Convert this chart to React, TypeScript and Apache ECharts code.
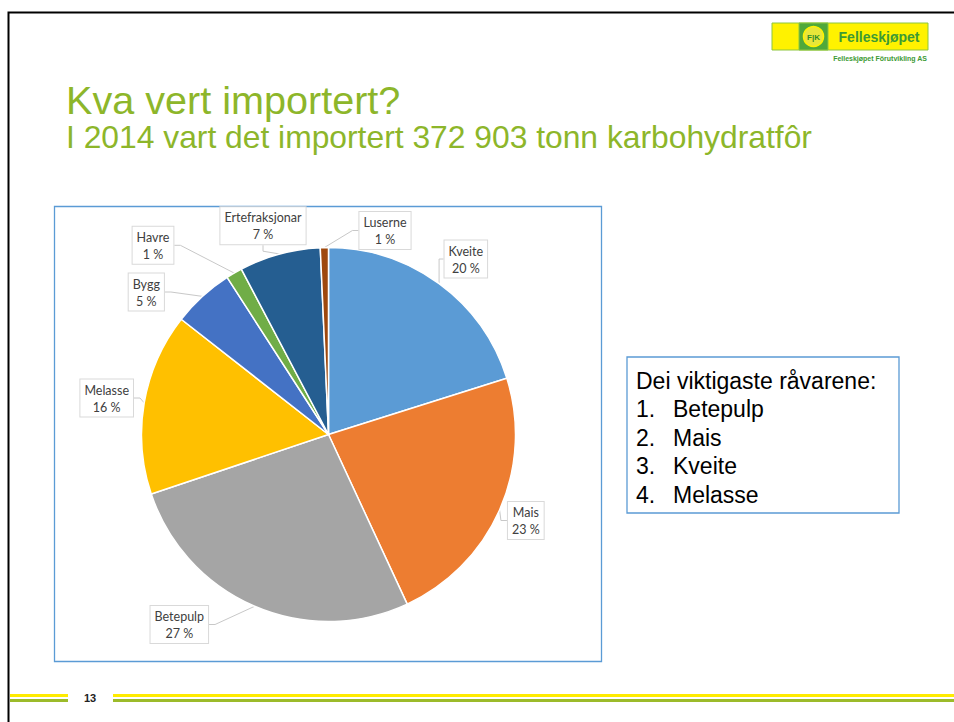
import React, { useEffect, useRef } from "react";
import * as echarts from "echarts";

const categories = ["Kveite", "Mais", "Betepulp", "Melasse", "Bygg", "Havre", "Ertefraksjonar", "Luserne"];
const shares = [20.1, 22.9, 26.7, 15.7, 5.3, 1.4, 7.0, 0.7];
const colors = ["#5B9BD5", "#ED7D31", "#A5A5A5", "#FFC000", "#4472C4", "#70AD47", "#255E91", "#9E480E"];
const titleText = "Kva vert importert?";
const subtitleText = "I 2014 vart det importert 372 903 tonn karbohydratfôr";
const boxHeading = "Dei viktigaste råvarene:";
const topList = ["Betepulp", "Mais", "Kveite", "Melasse"];
const pageNumber = "13";

// label box centre offsets from the pie centre (layout only)
const labelOffsetX = [137.3, 197.3, -149.2, -221.8, -182.2, -175.5, -65.5, 56.5];
const labelOffsetY = [-175.5, 86, 190, -36.5, -142.5, -189.2, -208.8, -204];

const PIE_CX = 328.5;
const PIE_CY = 434.5;
const GREEN = "#8DB62A";
const ARIAL = "'Liberation Sans', Arial, sans-serif";

export default function App() {
  const ref = useRef<HTMLDivElement>(null);
  useEffect(() => {
    if (!ref.current) return;
    const chart = echarts.init(ref.current, null, { renderer: "svg" });

    const listGraphics: any[] = [];
    listGraphics.push({
      type: "text",
      left: 636,
      top: 369,
      style: { text: boxHeading, fontSize: 23, fontFamily: ARIAL, fill: "#000" },
    });
    topList.forEach((item, i) => {
      listGraphics.push({
        type: "text",
        left: 636,
        top: 397.5 + i * 28.6,
        style: { text: `${i + 1}.`, fontSize: 23, fontFamily: ARIAL, fill: "#000" },
      });
      listGraphics.push({
        type: "text",
        left: 673,
        top: 397.5 + i * 28.6,
        style: { text: item, fontSize: 23, fontFamily: ARIAL, fill: "#000" },
      });
    });

    chart.setOption({
      animation: false,
      backgroundColor: "#ffffff",
      color: colors,
      graphic: [
        {
          type: "polyline",
          shape: { points: [[8.5, 722], [8.5, 12.5], [954, 12.5]] },
          style: { stroke: "#000", lineWidth: 2, fill: null },
        },
        {
          type: "text",
          left: 66,
          top: 80,
          style: { text: titleText, fontSize: 39.6, fontFamily: ARIAL, fill: GREEN },
        },
        {
          type: "text",
          left: 66,
          top: 121,
          style: { text: subtitleText, fontSize: 31.8, fontFamily: ARIAL, fill: GREEN },
        },
        {
          type: "rect",
          shape: { x: 54.5, y: 206.5, width: 547, height: 455 },
          style: { stroke: "#5B9BD5", lineWidth: 1.3, fill: null },
          z: -1,
        },
        {
          type: "rect",
          shape: { x: 627, y: 357, width: 272, height: 156 },
          style: { stroke: "#5B9BD5", lineWidth: 1.3, fill: "#fff" },
        },
        ...listGraphics,
        {
          type: "rect",
          shape: { x: 772, y: 23, width: 156, height: 27 },
          style: { fill: "#FFF200", stroke: "#8DC63F", lineWidth: 1 },
        },
        {
          type: "rect",
          shape: { x: 799, y: 23, width: 29, height: 27 },
          style: { fill: "#4FA83A", stroke: "#8DC63F", lineWidth: 1 },
        },
        {
          type: "circle",
          shape: { cx: 813.5, cy: 36.5, r: 10 },
          style: { fill: "#E8E63A", stroke: "#FFF200", lineWidth: 1.5 },
        },
        {
          type: "text",
          x: 813.5,
          y: 37,
          style: {
            text: "F|K",
            fontSize: 8,
            fontWeight: "bold",
            fontFamily: ARIAL,
            fill: "#2F8A2A",
            align: "center",
            verticalAlign: "middle",
          },
        },
        {
          type: "text",
          x: 879,
          y: 37,
          style: {
            text: "Felleskjøpet",
            fontSize: 14,
            fontWeight: "bold",
            fontFamily: ARIAL,
            fill: "#3D9A34",
            align: "center",
            verticalAlign: "middle",
          },
        },
        {
          type: "text",
          x: 927,
          y: 58,
          style: {
            text: "Felleskjøpet Förutvikling AS",
            fontSize: 7,
            fontWeight: "bold",
            fontFamily: ARIAL,
            fill: "#3D9A34",
            align: "right",
            verticalAlign: "middle",
          },
        },
        { type: "rect", shape: { x: 10, y: 694, width: 58, height: 3 }, style: { fill: "#FFEB00" } },
        { type: "rect", shape: { x: 10, y: 699, width: 58, height: 3 }, style: { fill: "#9CBB2A" } },
        { type: "rect", shape: { x: 113, y: 694, width: 841, height: 3 }, style: { fill: "#FFEB00" } },
        { type: "rect", shape: { x: 113, y: 699, width: 841, height: 3 }, style: { fill: "#9CBB2A" } },
        {
          type: "text",
          x: 90,
          y: 698,
          style: {
            text: pageNumber,
            fontSize: 11,
            fontWeight: "bold",
            fontFamily: ARIAL,
            fill: "#222",
            align: "center",
            verticalAlign: "middle",
          },
        },
      ],
      series: [
        {
          type: "pie",
          center: [PIE_CX, PIE_CY],
          radius: 187,
          startAngle: 90,
          clockwise: true,
          avoidLabelOverlap: false,
          itemStyle: { borderColor: "#ffffff", borderWidth: 1.5 },
          label: {
            show: true,
            position: "outside",
            formatter: (p: any) => `{c|${p.name}}\n{c|${Math.round(p.percent)} %}`,
            backgroundColor: "#ffffff",
            borderColor: "#D9D9D9",
            borderWidth: 1,
            padding: [2, 4, 1, 4],
            rich: {
              c: {
                align: "center",
                fontFamily: "Lato, 'Open Sans', sans-serif",
                fontSize: 12.5,
                lineHeight: 17,
                color: "#404040",
              },
            },
          },
          labelLine: {
            show: true,
            length: 10,
            length2: 6,
            lineStyle: { color: "#C8C8C8", width: 1 },
          },
          labelLayout: (params: any) => ({
            x: PIE_CX + labelOffsetX[params.dataIndex],
            y: PIE_CY + labelOffsetY[params.dataIndex],
            align: "center",
            verticalAlign: "middle",
          }),
          emphasis: { disabled: true },
          data: categories.map((name, i) => ({ name, value: shares[i] })),
        },
      ],
    });
    return () => chart.dispose();
  }, []);
  return (
    <div
      ref={ref}
      style={{ position: "absolute", left: 0, top: 0, width: 954, height: 722 }}
    />
  );
}
